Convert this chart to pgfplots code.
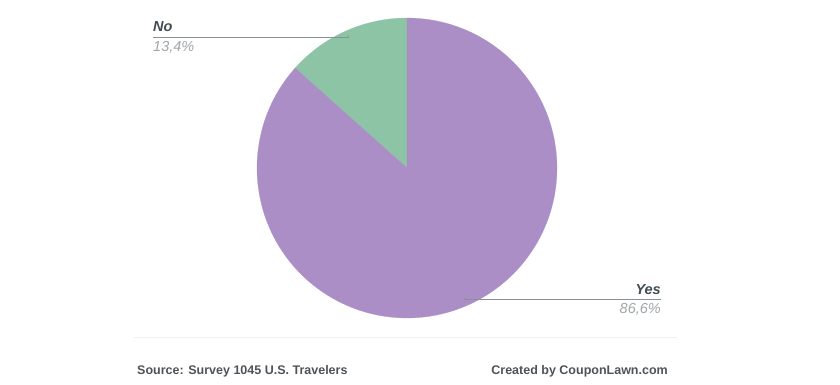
\documentclass[border=0pt]{standalone}
\usepackage{pgfplots}
\usepackage{pgfplotstable}
\pgfplotsset{compat=1.18}
\usepackage{fontspec}
\setmainfont{Liberation Sans}
\definecolor{pieviolet}{RGB}{171,142,198}
\definecolor{piegreen}{RGB}{141,196,166}
\definecolor{labdark}{RGB}{63,76,82}
\definecolor{labgray}{RGB}{160,165,168}
\definecolor{footdark}{RGB}{77,83,88}
\definecolor{leader}{RGB}{138,144,148}
\pgfplotstableread{
label value
No 13.4
Yes 86.6
}\piedata
\begin{document}
\begin{tikzpicture}
\pgfplotstablegetelem{0}{value}\of\piedata
\pgfmathsetmacro{\aNo}{90+3.6*\pgfplotsretval}
\begin{axis}[scale only axis, width=840pt, height=385pt,
  xmin=0, xmax=840, ymin=0, ymax=385, hide axis, clip=false]
% pie centre (407,217), radius 150 (pixel units)
\addplot[fill=piegreen, draw=piegreen, line width=0.2pt, domain=90:\aNo, samples=80, variable=\t]
  ({407+150*cos(t)},{217+150*sin(t)}) -- (axis cs:407,217) -- cycle;
\addplot[fill=pieviolet, draw=pieviolet, line width=0.2pt, domain=\aNo:450, samples=300, variable=\t]
  ({407+150*cos(t)},{217+150*sin(t)}) -- (axis cs:407,217) -- cycle;
% leader lines
\draw[leader, line width=0.8pt] (axis cs:153,348) -- (axis cs:348,348);
\fill[leader] (axis cs:348,348) circle (1pt);
\draw[leader, line width=0.8pt] (axis cs:465,86) -- (axis cs:661,86);
\fill[leader] (axis cs:465,86) circle (1pt);
% labels
\node[anchor=base west, inner sep=0pt, text=labdark, font=\fontsize{14.5}{16}\selectfont\bfseries\itshape] at (axis cs:153,353) {No};
\node[anchor=base west, inner sep=0pt, text=labgray, font=\fontsize{14.5}{16}\selectfont\itshape] at (axis cs:153,333) {13,4\%};
\node[anchor=base east, inner sep=0pt, text=labdark, font=\fontsize{14.5}{16}\selectfont\bfseries\itshape] at (axis cs:661,90) {Yes};
\node[anchor=base east, inner sep=0pt, text=labgray, font=\fontsize{14.5}{16}\selectfont\itshape] at (axis cs:661,71) {86,6\%};
% footer
\draw[gray!12, line width=0.6pt] (axis cs:134,48) -- (axis cs:677,48);
\node[anchor=base west, inner sep=0pt, text=footdark, font=\fontsize{12.5}{15}\selectfont\bfseries] at (axis cs:137,10) {Source: Survey 1045 U.S. Travelers};
\node[anchor=base east, inner sep=0pt, text=footdark, font=\fontsize{12.5}{15}\selectfont\bfseries] at (axis cs:668,10) {Created by CouponLawn.com};
\end{axis}
\pgfresetboundingbox
\path (current axis.south west) rectangle (current axis.north east);
\end{tikzpicture}
\end{document}
